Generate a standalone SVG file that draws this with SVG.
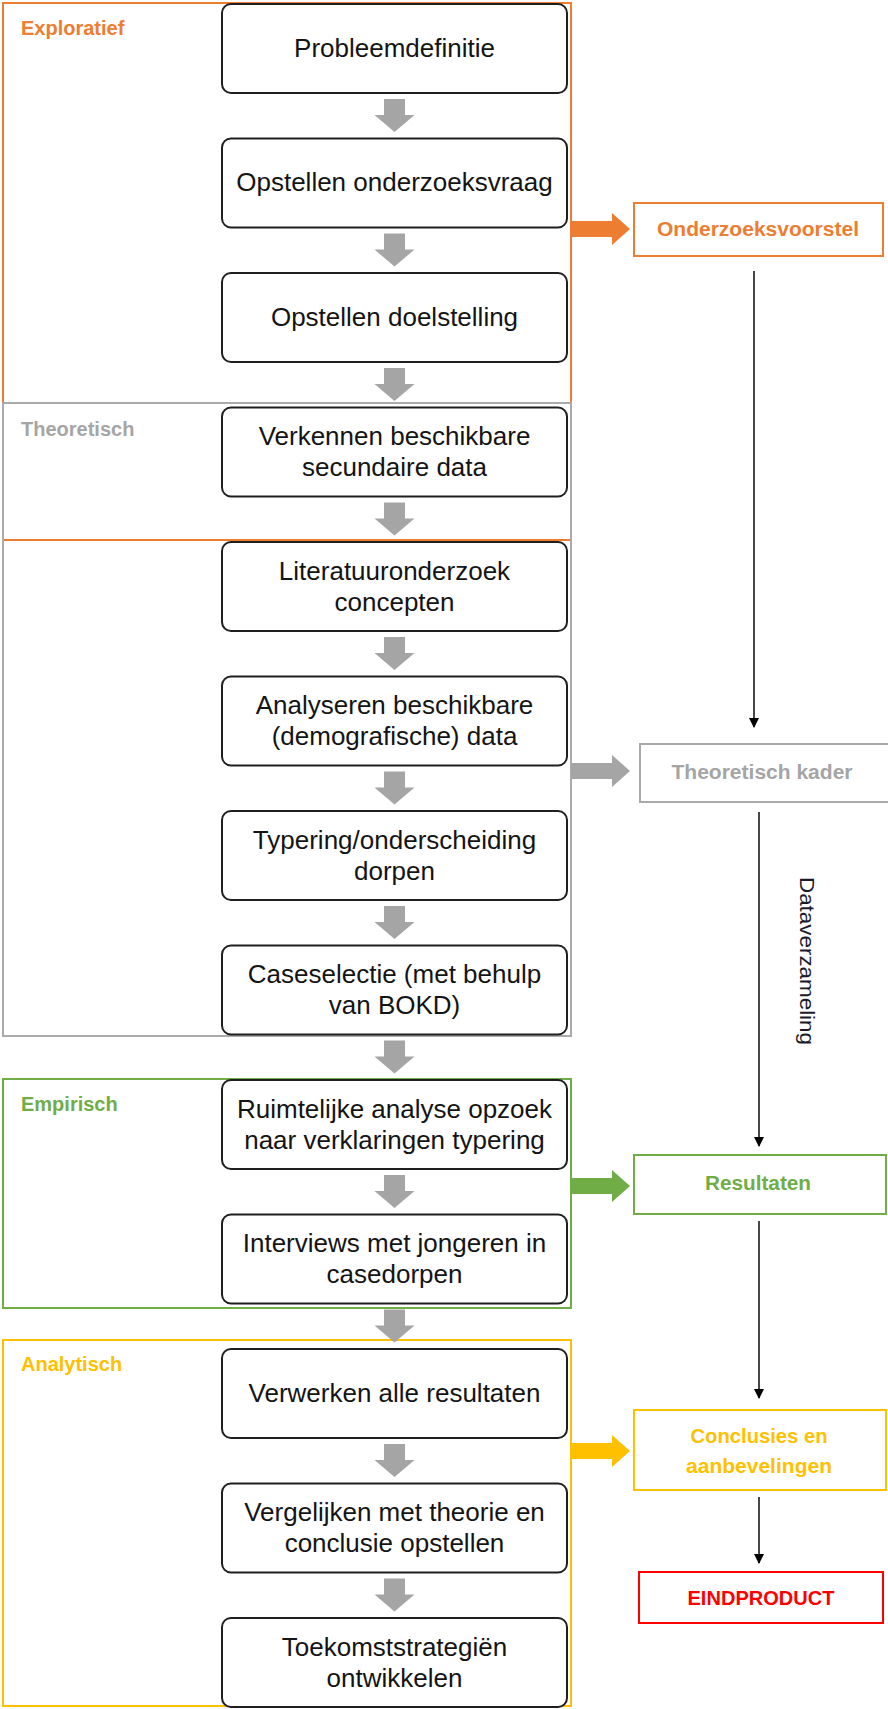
<svg xmlns="http://www.w3.org/2000/svg" xmlns:xlink="http://www.w3.org/1999/xlink" width="888" height="1709" viewBox="0 0 888 1709">
<style>
.node rect{fill:#fff;stroke:#1f1f1f;stroke-width:2}
.node text{font-family:"Liberation Sans",Arial,sans-serif;font-size:26px;fill:#141414;text-anchor:middle}
.phase{fill:none;stroke-width:2}
.plabel{font-family:"Liberation Sans",Arial,sans-serif;font-size:20px;font-weight:bold}
.out rect{fill:#fff;stroke-width:2}
.out text{font-family:"Liberation Sans",Arial,sans-serif;font-size:20px;font-weight:bold;text-anchor:middle}
.thin{stroke:#1a1a1a;stroke-width:1.6;fill:none;marker-end:url(#tri)}
.down{fill:#A5A5A5}
</style>
<defs>
<marker id="tri" markerWidth="10" markerHeight="10" refX="9" refY="5" orient="auto" markerUnits="userSpaceOnUse">
<path d="M0,0 L10,5 L0,10 Z" fill="#000"/>
</marker>
<path id="dn" d="M-10.5,6 H10.5 V22 H20 L0,39 L-20,22 H-10.5 Z"/>
<path id="rt" d="M0,-8 H41 V-16 L59,0 L41,16 V8 H0 Z"/>
</defs>

<!-- phase boxes -->
<g id="phase-exploratief">
<rect class="phase" x="3" y="3" width="568" height="537" stroke="#ED7D31"/>
<text class="plabel" x="21" y="35" fill="#ED7D31">Exploratief</text>
</g>
<g id="phase-theoretisch">
<rect class="phase" x="3" y="403" width="568" height="633" stroke="#AAAAAA"/>
<text class="plabel" x="21" y="436" fill="#A5A5A5">Theoretisch</text>
</g>
<g id="phase-empirisch">
<rect class="phase" x="3" y="1079" width="568" height="229" stroke="#70AD47"/>
<text class="plabel" x="21" y="1111" fill="#70AD47">Empirisch</text>
</g>
<g id="phase-analytisch">
<rect class="phase" x="3" y="1340" width="568" height="366" stroke="#FFC000"/>
<text class="plabel" x="21" y="1371" fill="#FFC000">Analytisch</text>
</g>

<!-- connectors -->
<g id="connectors">
<g class="down">
<use xlink:href="#dn" href="#dn" x="394.5" y="93"/>
<use xlink:href="#dn" href="#dn" x="394.5" y="227.5"/>
<use xlink:href="#dn" href="#dn" x="394.5" y="362"/>
<use xlink:href="#dn" href="#dn" x="394.5" y="496.5"/>
<use xlink:href="#dn" href="#dn" x="394.5" y="631"/>
<use xlink:href="#dn" href="#dn" x="394.5" y="765.5"/>
<use xlink:href="#dn" href="#dn" x="394.5" y="900"/>
<use xlink:href="#dn" href="#dn" x="394.5" y="1034.5"/>
<use xlink:href="#dn" href="#dn" x="394.5" y="1169"/>
<use xlink:href="#dn" href="#dn" x="394.5" y="1303.5"/>
<use xlink:href="#dn" href="#dn" x="394.5" y="1438"/>
<use xlink:href="#dn" href="#dn" x="394.5" y="1572.5"/>
</g>
<use xlink:href="#rt" href="#rt" x="571" y="229" fill="#ED7D31"/>
<use xlink:href="#rt" href="#rt" x="571" y="771" fill="#A5A5A5"/>
<use xlink:href="#rt" href="#rt" x="571" y="1186" fill="#70AD47"/>
<use xlink:href="#rt" href="#rt" x="571" y="1451" fill="#FFC000"/>
<line class="thin" x1="754" y1="271" x2="754" y2="727"/>
<line class="thin" x1="759" y1="812" x2="759" y2="1146"/>
<line class="thin" x1="759" y1="1221" x2="759" y2="1398"/>
<line class="thin" x1="759" y1="1497" x2="759" y2="1563"/>
<text transform="translate(800,877) rotate(90)" font-family="'Liberation Sans',Arial,sans-serif" font-size="21" fill="#1a1a2a" textLength="168" lengthAdjust="spacingAndGlyphs">Dataverzameling</text>
</g>

<!-- process nodes -->
<g id="n1" class="node"><rect x="222" y="4" width="345" height="89" rx="9"/><text x="394.5" y="56.5">Probleemdefinitie</text></g>
<g id="n2" class="node"><rect x="222" y="138.5" width="345" height="89" rx="9"/><text x="394.5" y="191">Opstellen onderzoeksvraag</text></g>
<g id="n3" class="node"><rect x="222" y="273" width="345" height="89" rx="9"/><text x="394.5" y="325.5">Opstellen doelstelling</text></g>
<g id="n4" class="node"><rect x="222" y="407.5" width="345" height="89" rx="9"/><text x="394.5" y="445">Verkennen beschikbare</text><text x="394.5" y="476">secundaire data</text></g>
<g id="n5" class="node"><rect x="222" y="542" width="345" height="89" rx="9"/><text x="394.5" y="579.5">Literatuuronderzoek</text><text x="394.5" y="610.5">concepten</text></g>
<g id="n6" class="node"><rect x="222" y="676.5" width="345" height="89" rx="9"/><text x="394.5" y="714">Analyseren beschikbare</text><text x="394.5" y="745">(demografische) data</text></g>
<g id="n7" class="node"><rect x="222" y="811" width="345" height="89" rx="9"/><text x="394.5" y="848.5">Typering/onderscheiding</text><text x="394.5" y="879.5">dorpen</text></g>
<g id="n8" class="node"><rect x="222" y="945.5" width="345" height="89" rx="9"/><text x="394.5" y="983">Caseselectie (met behulp</text><text x="394.5" y="1014">van BOKD)</text></g>
<g id="n9" class="node"><rect x="222" y="1080" width="345" height="89" rx="9"/><text x="394.5" y="1117.5">Ruimtelijke analyse opzoek</text><text x="394.5" y="1148.5">naar verklaringen typering</text></g>
<g id="n10" class="node"><rect x="222" y="1214.5" width="345" height="89" rx="9"/><text x="394.5" y="1252">Interviews met jongeren in</text><text x="394.5" y="1283">casedorpen</text></g>
<g id="n11" class="node"><rect x="222" y="1349" width="345" height="89" rx="9"/><text x="394.5" y="1401.5">Verwerken alle resultaten</text></g>
<g id="n12" class="node"><rect x="222" y="1483.5" width="345" height="89" rx="9"/><text x="394.5" y="1521">Vergelijken met theorie en</text><text x="394.5" y="1552">conclusie opstellen</text></g>
<g id="n13" class="node"><rect x="222" y="1618" width="345" height="89" rx="9"/><text x="394.5" y="1655.5">Toekomststrategiën</text><text x="394.5" y="1686.5">ontwikkelen</text></g>

<!-- output nodes -->
<g id="o1" class="out"><rect x="634" y="203" width="249" height="53" stroke="#ED7D31"/><text x="758" y="236" fill="#ED7D31" textLength="202" lengthAdjust="spacingAndGlyphs">Onderzoeksvoorstel</text></g>
<g id="o2" class="out"><rect x="640" y="744" width="252" height="58" stroke="#AAAAAA"/><text x="762" y="779" fill="#A5A5A5" textLength="181" lengthAdjust="spacingAndGlyphs">Theoretisch kader</text></g>
<g id="o3" class="out"><rect x="634" y="1155" width="252" height="59" stroke="#70AD47"/><text x="758" y="1190" fill="#70AD47" textLength="106" lengthAdjust="spacingAndGlyphs">Resultaten</text></g>
<g id="o4" class="out"><rect x="634" y="1410" width="252" height="80" stroke="#FFC000"/><text x="759" y="1443" fill="#FFC000" textLength="137" lengthAdjust="spacingAndGlyphs">Conclusies en</text><text x="759" y="1473" fill="#FFC000" textLength="146" lengthAdjust="spacingAndGlyphs">aanbevelingen</text></g>
<g id="o5" class="out"><rect x="639" y="1572" width="244" height="51" stroke="#FF0000"/><text x="761" y="1605" fill="#FF0000" textLength="147" lengthAdjust="spacingAndGlyphs">EINDPRODUCT</text></g>
</svg>
